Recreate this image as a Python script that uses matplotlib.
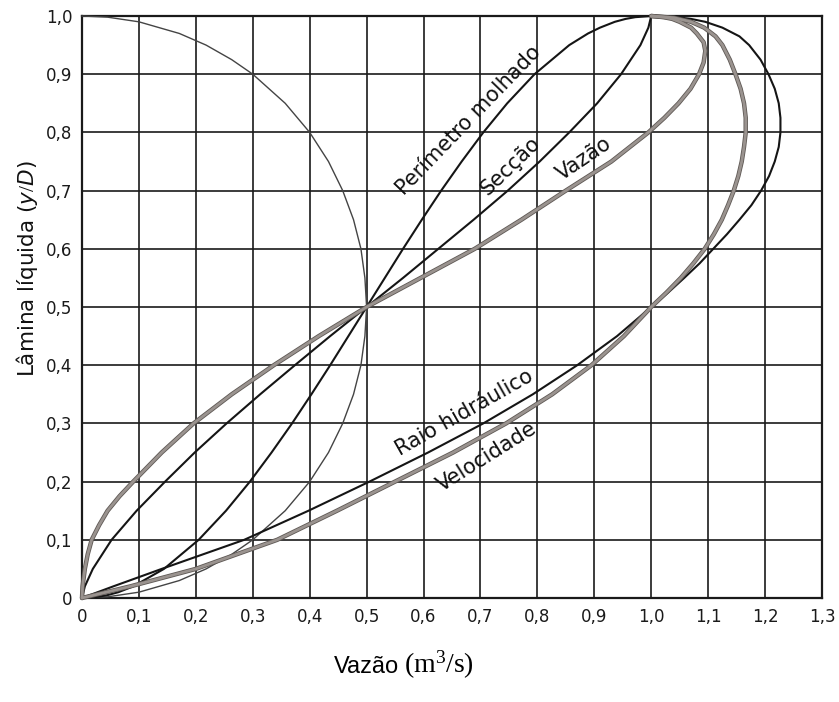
import matplotlib
matplotlib.use("Agg")
import matplotlib.pyplot as plt

plt.rcParams['font.family'] = ['DejaVu Sans']
plt.rcParams['mathtext.fontset'] = 'custom'
plt.rcParams['mathtext.rm'] = 'Liberation Serif'
plt.rcParams['mathtext.it'] = 'DejaVu Sans:italic'

# ---- data (x = relative value, y = y/D) ----
circle_y = [1.0, 0.998, 0.99, 0.97, 0.95, 0.925, 0.9, 0.85, 0.8, 0.75, 0.7, 0.65, 0.6, 0.55, 0.5,
            0.45, 0.4, 0.35, 0.3, 0.25, 0.2, 0.15, 0.1, 0.075, 0.05, 0.03, 0.01, 0.002, 0.0]
circle_x = [0.0, 0.045, 0.10, 0.171, 0.218, 0.263, 0.30, 0.357, 0.40, 0.433, 0.458, 0.477, 0.49, 0.497, 0.50,
            0.497, 0.49, 0.477, 0.458, 0.433, 0.40, 0.357, 0.30, 0.263, 0.218, 0.171, 0.10, 0.045, 0.0]

perim_y = [0, 0.002, 0.005, 0.01, 0.02, 0.05, 0.1, 0.15, 0.2, 0.25, 0.3, 0.35, 0.4, 0.45, 0.5,
           0.55, 0.6, 0.65, 0.7, 0.75, 0.8, 0.85, 0.9, 0.95, 0.97, 0.98, 0.99, 0.995, 0.998, 1.0]
perim_x = [0, 0.028, 0.045, 0.064, 0.09, 0.144, 0.205, 0.253, 0.295, 0.333, 0.369, 0.403, 0.436, 0.468, 0.5,
           0.532, 0.564, 0.597, 0.631, 0.667, 0.705, 0.747, 0.795, 0.856, 0.889, 0.910, 0.936, 0.955, 0.972, 1.0]

sec_y = [0, 0.02, 0.05, 0.1, 0.15, 0.2, 0.25, 0.3, 0.35, 0.4, 0.45, 0.5,
         0.55, 0.6, 0.65, 0.7, 0.75, 0.8, 0.85, 0.9, 0.95, 0.98, 1.0]
sec_x = [0, 0.005, 0.019, 0.052, 0.096, 0.146, 0.198, 0.254, 0.313, 0.374, 0.436, 0.5,
         0.564, 0.626, 0.688, 0.748, 0.804, 0.856, 0.905, 0.947, 0.981, 0.995, 1.0]

vaz_y = [0, 0.02, 0.05, 0.075, 0.1, 0.125, 0.15, 0.175, 0.2, 0.25, 0.3, 0.35, 0.4, 0.45, 0.5,
         0.55, 0.6, 0.65, 0.7, 0.75, 0.8, 0.825, 0.85, 0.875, 0.9, 0.92, 0.94, 0.955,
         0.97, 0.98, 0.99, 0.995, 0.998, 1.0]
vaz_x = [0, 0.001, 0.005, 0.010, 0.017, 0.030, 0.045, 0.066, 0.09, 0.14, 0.196, 0.263, 0.337, 0.416, 0.5,
         0.595, 0.69, 0.772, 0.85, 0.93, 0.995, 1.023, 1.048, 1.069, 1.084, 1.092, 1.095, 1.092,
         1.08, 1.07, 1.05, 1.037, 1.022, 1.0]

raio_y = [0, 0.02, 0.05, 0.1, 0.15, 0.2, 0.25, 0.3, 0.35, 0.4, 0.45, 0.5,
          0.525, 0.55, 0.575, 0.6, 0.625, 0.65, 0.675, 0.7, 0.725, 0.75, 0.775, 0.8, 0.825,
          0.85, 0.875, 0.9, 0.925, 0.95, 0.965, 0.98, 0.99, 0.995, 0.998, 1.0]
raio_x = [0, 0.055, 0.14, 0.285, 0.398, 0.505, 0.608, 0.705, 0.792, 0.87, 0.94, 1.0,
          1.03, 1.058, 1.085, 1.109, 1.133, 1.155, 1.176, 1.193, 1.207, 1.217, 1.224, 1.227, 1.227,
          1.224, 1.217, 1.206, 1.192, 1.172, 1.155, 1.125, 1.095, 1.07, 1.045, 1.0]

vel_y = [0, 0.02, 0.05, 0.1, 0.15, 0.2, 0.25, 0.3, 0.35, 0.4, 0.45, 0.5,
         0.525, 0.55, 0.575, 0.6, 0.625, 0.65, 0.675, 0.7, 0.725, 0.75, 0.775, 0.8, 0.825,
         0.85, 0.875, 0.9, 0.925, 0.95, 0.965, 0.98, 0.99, 0.997, 1.0]
vel_x = [0, 0.085, 0.20, 0.343, 0.448, 0.55, 0.652, 0.745, 0.826, 0.895, 0.952, 1.0,
         1.027, 1.052, 1.074, 1.094, 1.110, 1.124, 1.135, 1.145, 1.153, 1.159, 1.163, 1.166, 1.166,
         1.163, 1.157, 1.148, 1.138, 1.125, 1.113, 1.093, 1.07, 1.04, 1.0]

x_ticks = [0, 0.1, 0.2, 0.3, 0.4, 0.5, 0.6, 0.7, 0.8, 0.9, 1.0, 1.1, 1.2, 1.3]
x_tick_labels = ["0", "0,1", "0,2", "0,3", "0,4", "0,5", "0,6", "0,7", "0,8", "0,9",
                 "1,0", "1,1", "1,2", "1,3"]
y_ticks = [0, 0.1, 0.2, 0.3, 0.4, 0.5, 0.6, 0.7, 0.8, 0.9, 1.0]
y_tick_labels = ["0", "0,1", "0,2", "0,3", "0,4", "0,5", "0,6", "0,7", "0,8", "0,9", "1,0"]

# ---- figure ----
W, H = 839, 702
fig = plt.figure(figsize=(W / 100, H / 100), dpi=100)
ax = fig.add_axes([82 / W, 1 - 598 / H, 740 / W, 582 / H])
ax.set_xlim(0, 1.3)
ax.set_ylim(0, 1.0)
ax.set_xticks(x_ticks)
ax.set_xticklabels(x_tick_labels)
ax.set_yticks(y_ticks)
ax.set_yticklabels(y_tick_labels)
ax.tick_params(length=0, labelsize=12, pad=7, colors='#1a1a1a')
ax.grid(True, color='#1a1a1a', linewidth=1.2, zorder=0)
ax.set_axisbelow(True)
for s in ax.spines.values():
    s.set_linewidth(1.6)
    s.set_color('#1a1a1a')

black = '#151515'
gray_edge = '#5f5955'
gray_fill = '#9a938f'

ax.plot(circle_x, circle_y, color='#444444', lw=1.0, zorder=3, clip_on=False)
ax.plot(perim_x, perim_y, color=black, lw=1.5, zorder=4, clip_on=False)
ax.plot(sec_x, sec_y, color=black, lw=1.5, zorder=4, clip_on=False)
ax.plot(raio_x, raio_y, color=black, lw=1.5, zorder=4, clip_on=False)
for xs, ys in [(vaz_x, vaz_y), (vel_x, vel_y)]:
    ax.plot(xs, ys, color=gray_edge, lw=3.2, zorder=5, clip_on=False,
            solid_capstyle='round', solid_joinstyle='round')
    ax.plot(xs, ys, color=gray_fill, lw=2.0, zorder=6, clip_on=False,
            solid_capstyle='round', solid_joinstyle='round')

lab_kw = dict(fontsize=15, color='#111111', ha='center', va='center', rotation_mode='anchor', zorder=7)
ax.text(0.679, 0.821, "Perímetro molhado", rotation=46, **lab_kw)
ax.text(0.752, 0.742, "Secção", rotation=44, **lab_kw)
ax.text(0.882, 0.755, "Vazão", rotation=34, **lab_kw)
ax.text(0.671, 0.318, "Raio hidráulico", rotation=29.5, **lab_kw)
ax.text(0.712, 0.243, "Velocidade", rotation=32, **lab_kw)

fig.text(27 / W, 1 - 269 / H, r"Lâmina líquida ($\mathit{y/D}$)", rotation=90,
         ha='center', va='center', fontsize=15.5, color='#111111')
fig.text(399 / W, 1 - 673 / H, "Vazão", family='Liberation Sans', fontsize=17,
         ha='right', va='baseline', color='black')
fig.text(404 / W, 1 - 673 / H, r"$\mathrm{(m^3/s)}$", fontsize=20,
         ha='left', va='baseline', color='black')

fig.savefig("out.png", dpi=100)
